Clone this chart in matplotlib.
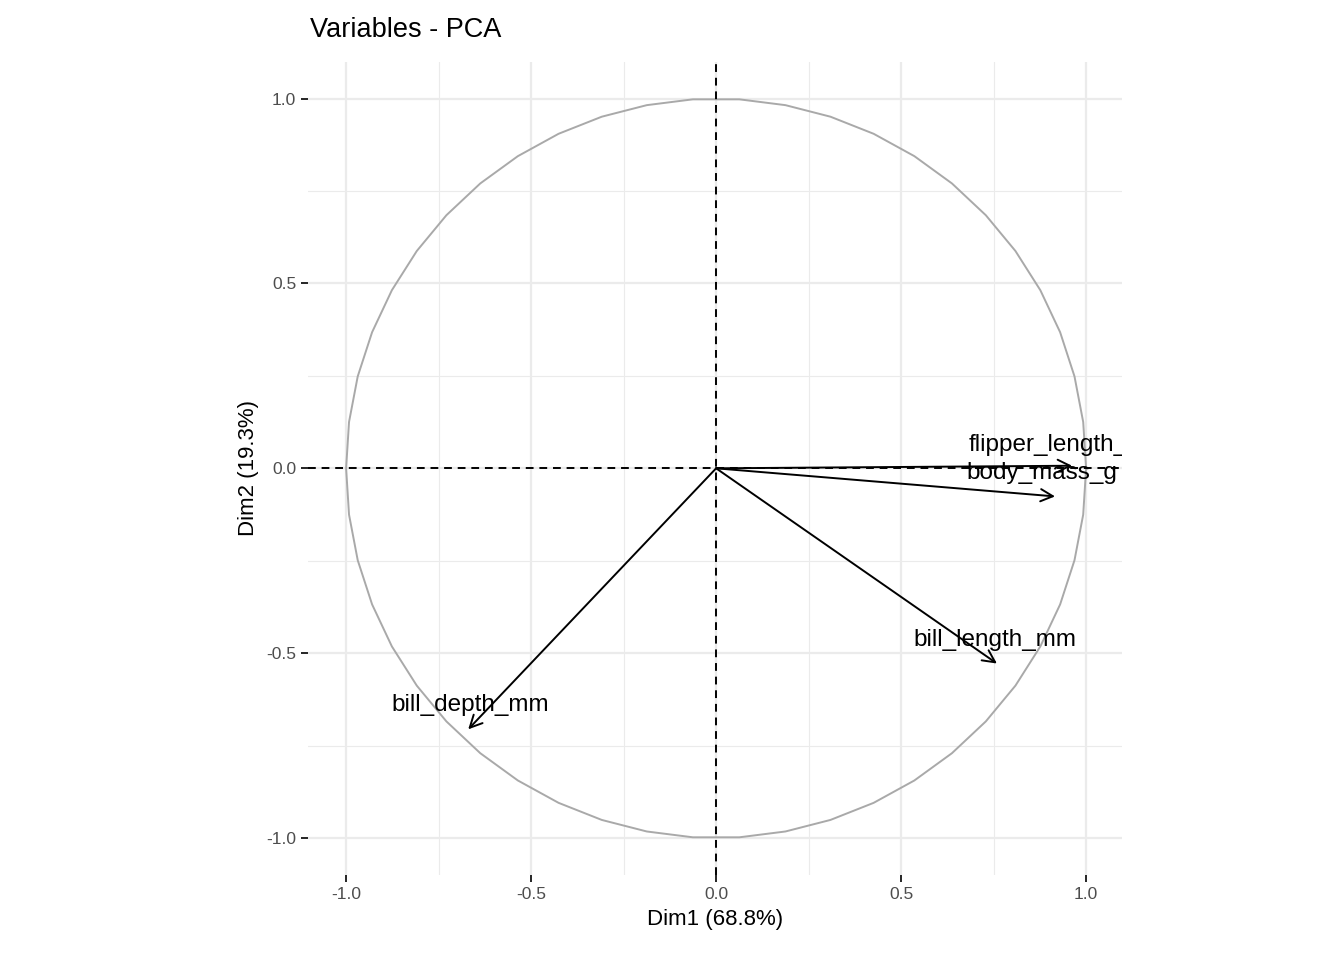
import numpy as np
import matplotlib.pyplot as plt

plt.rcParams['font.family'] = ['Liberation Sans', 'DejaVu Sans']

var_names = ["flipper_length_mm", "body_mass_g", "bill_length_mm", "bill_depth_mm"]
dim1 = [0.962, 0.916, 0.759, -0.670]
dim2 = [0.007, -0.076, -0.528, -0.706]
label_x = [0.951, 0.880, 0.754, -0.665]
label_y = [0.062, -0.012, -0.464, -0.640]

fig = plt.figure(figsize=(13.44, 9.6), dpi=100)
ax = fig.add_axes([308 / 1344, 85 / 960, 814 / 1344, 813 / 960])
ax.set_xlim(-1.103, 1.097)
ax.set_ylim(-1.10, 1.099)

major = [-1.0, -0.5, 0.0, 0.5, 1.0]
minor = [-0.75, -0.25, 0.25, 0.75]
for v in major:
    ax.axvline(v, color="#EBEBEB", lw=1.6, zorder=0)
    ax.axhline(v, color="#EBEBEB", lw=1.6, zorder=0)
for v in minor:
    ax.axvline(v, color="#EBEBEB", lw=0.8, zorder=0)
    ax.axhline(v, color="#EBEBEB", lw=0.8, zorder=0)

t = np.linspace(0, 2 * np.pi, 51)
ax.plot(np.cos(t), np.sin(t), color="#A9A9A9", lw=1.4)
ax.axhline(0, color="black", ls="--", lw=1.4, dashes=(4, 3))
ax.axvline(0, color="black", ls="--", lw=1.4, dashes=(4, 3))

for x, y in zip(dim1, dim2):
    ax.annotate("", xy=(x, y), xytext=(0, 0),
                arrowprops=dict(arrowstyle="->", color="black", lw=1.4,
                                mutation_scale=22, shrinkA=0, shrinkB=0))
for name, x, y in zip(var_names, label_x, label_y):
    ax.text(x, y, name, ha="center", va="center", fontsize=17.5, clip_on=True)

for s in ax.spines.values():
    s.set_visible(False)
ax.set_xticks(major)
ax.set_yticks(major)
ax.set_xticklabels(["-1.0", "-0.5", "0.0", "0.5", "1.0"])
ax.set_yticklabels(["-1.0", "-0.5", "0.0", "0.5", "1.0"])
ax.tick_params(colors="#4D4D4D", labelsize=12.5, length=5, width=1.2)
ax.tick_params(color="black")
ax.set_xlabel("Dim1 (68.8%)", fontsize=16, labelpad=5)
ax.set_ylabel("Dim2 (19.3%)", fontsize=16, labelpad=5)
fig.text(310 / 1344, 1 - 30 / 960, "Variables - PCA", fontsize=19.5, va="center")

fig.savefig("out.png", dpi=100)
